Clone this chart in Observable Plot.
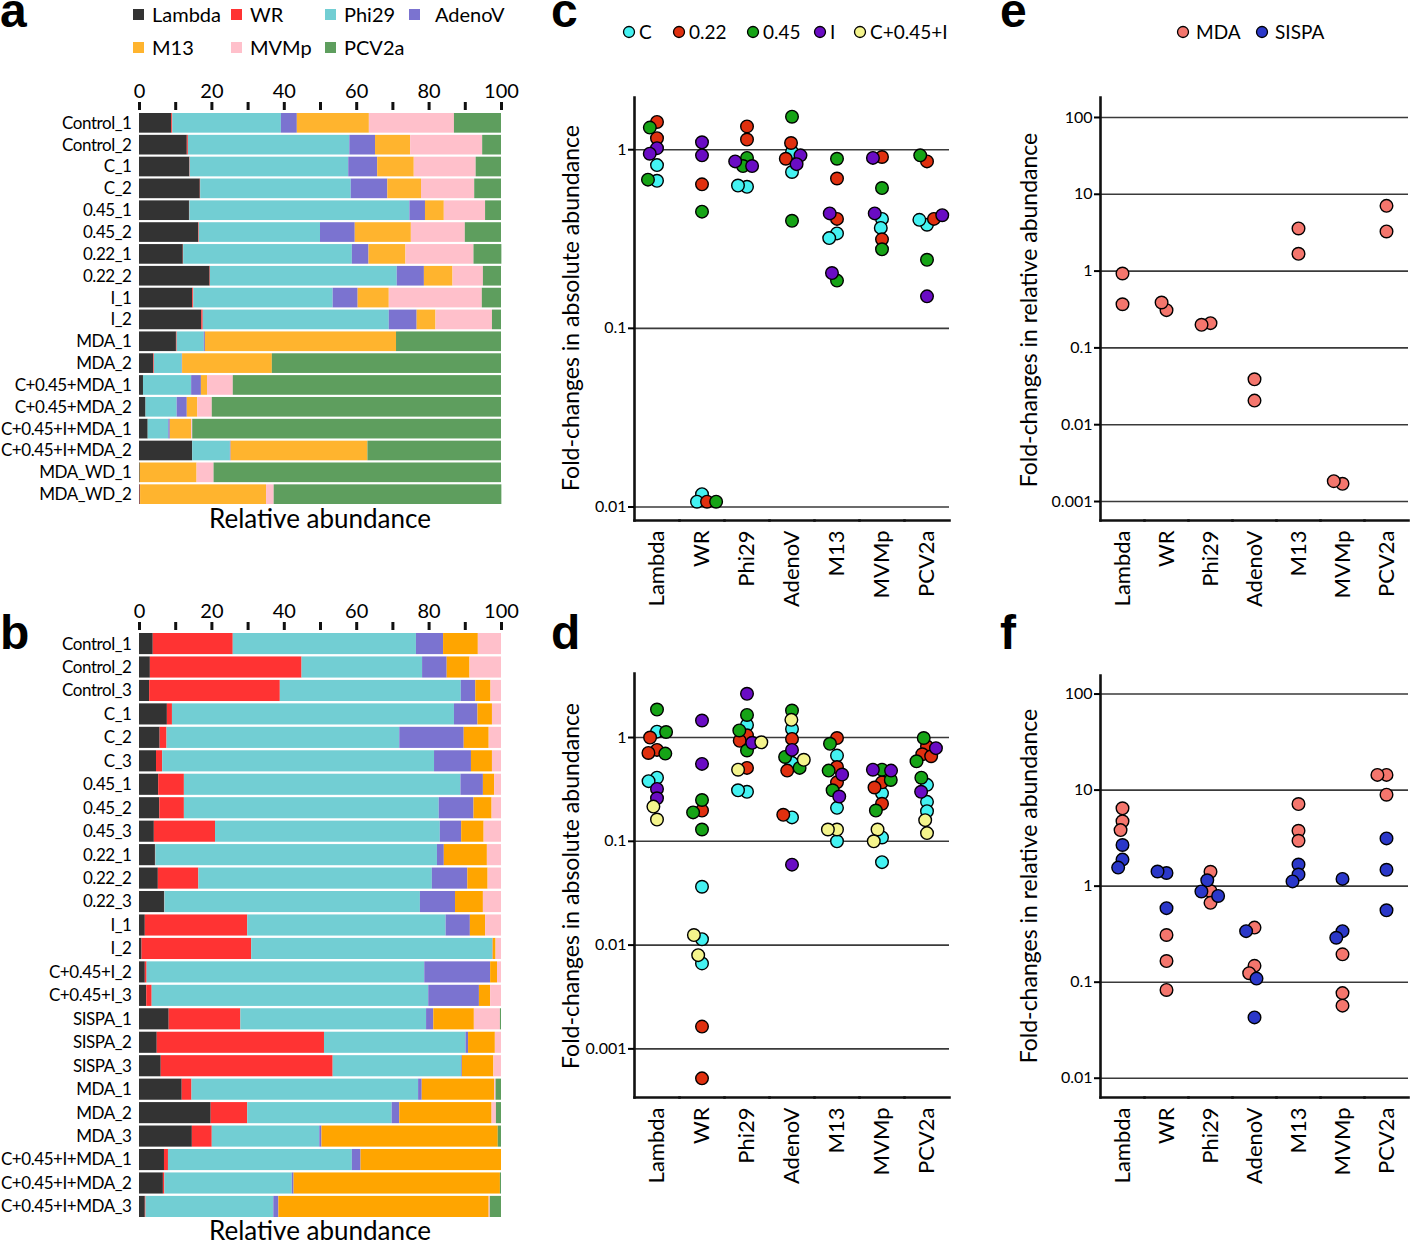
<!DOCTYPE html>
<html><head><meta charset="utf-8">
<script src="https://cdn.jsdelivr.net/npm/d3@7"></script>
<script src="https://cdn.jsdelivr.net/npm/@observablehq/plot@0.6"></script>
<style>
body{margin:0;background:#fff;}
#fig{position:relative;width:1416px;height:1242px;overflow:hidden;background:#fff;font-family:Lato,sans-serif;}
</style></head><body><div id="fig"></div>
<script>
// ---------- categories ----------
const viruses = ["Lambda","WR","Phi29","AdenoV","M13","MVMp","PCV2a"];
const barColorsA = ["#333333","#FF3333","#72CED3","#7B73D0","#FFB42E","#FFC0CB","#5E9E5E"];
const barColorsB = ["#333333","#FF3333","#72CED3","#7B73D0","#FFA500","#FFC0CB","#5E9E5E"];

// ---------- panel a: relative abundance (%) ----------
const samplesA = ["Control_1","Control_2","C_1","C_2","0.45_1","0.45_2","0.22_1","0.22_2","I_1","I_2","MDA_1","MDA_2","C+0.45+MDA_1","C+0.45+MDA_2","C+0.45+I+MDA_1","C+0.45+I+MDA_2","MDA_WD_1","MDA_WD_2"];
const aLambda = [8.9,13.2,13.9,16.8,13.8,16.3,12.1,19.5,14.7,17.2,10.2,3.9,1.1,1.8,2.4,14.7,0.2,0.2];
const aWR     = [0.3,0.3,0.1,0.1,0.1,0.2,0.1,0.1,0.3,0.4,0.2,0.2,0,0,0,0,0,0.1];
const aPhi29  = [30.0,44.6,43.8,41.6,60.8,33.5,46.6,51.6,38.5,51.4,7.5,7.7,13.3,8.6,5.7,10.4,0,0];
const aAdenoV = [4.4,7.1,8.0,10.1,4.3,9.6,4.6,7.5,6.9,7.7,0.3,0.1,2.7,2.8,0.4,0.2,0,0];
const aM13    = [19.9,9.7,10.1,9.3,5.2,15.5,10.2,7.9,8.6,5.2,52.8,24.8,1.7,2.9,5.9,37.8,15.7,34.8];
const aMVMp   = [23.5,19.9,17.1,14.7,11.4,14.9,18.8,8.4,25.7,15.6,0,0,7.1,4.0,0.3,0,4.7,2.1];
const aPCV2a  = [13.0,5.2,7.0,7.4,4.4,10.0,7.7,5.0,5.3,2.5,29.0,63.3,74.1,79.9,85.3,36.9,79.4,62.9];

// ---------- panel b: relative abundance (%) ----------
const samplesB = ["Control_1","Control_2","Control_3","C_1","C_2","C_3","0.45_1","0.45_2","0.45_3","0.22_1","0.22_2","0.22_3","I_1","I_2","C+0.45+I_2","C+0.45+I_3","SISPA_1","SISPA_2","SISPA_3","MDA_1","MDA_2","MDA_3","C+0.45+I+MDA_1","C+0.45+I+MDA_2","C+0.45+I+MDA_3"];
const bLambda = [3.8,3.0,2.8,7.7,5.7,4.7,5.3,5.6,4.1,4.4,5.2,6.9,1.6,0.7,1.6,2.0,8.2,4.9,6.0,11.8,19.8,14.6,6.9,6.6,1.6];
const bWR     = [22.1,41.9,36.1,1.4,1.9,1.7,7.1,6.8,16.9,0.1,11.2,0.1,28.3,30.3,0.5,1.5,19.8,46.2,47.5,2.7,10.1,5.5,1.1,0.4,0.2];
const bPhi29  = [50.6,33.3,50.0,77.9,64.3,75.1,76.4,70.4,62.1,77.8,64.5,70.6,54.8,66.6,76.7,76.4,51.3,39.1,35.5,62.6,39.9,29.7,50.8,35.2,35.3];
const bAdenoV = [7.5,6.8,4.0,6.5,17.8,10.2,6.2,9.6,5.9,1.9,9.8,9.7,6.7,0.1,18.2,14.0,2.0,0.7,0.2,1.0,2.1,0.6,2.4,0.5,1.4];
const bM13    = [9.6,6.3,4.2,4.0,6.9,5.8,3.1,5.0,6.2,11.9,5.6,7.7,4.2,0.8,1.9,3.1,11.2,7.4,8.7,20.0,25.5,48.7,38.8,57.0,58.1];
const bMVMp   = [6.4,8.7,2.9,2.5,3.4,2.5,1.9,2.6,4.8,3.9,3.7,5.0,4.4,1.5,1.1,3.0,7.2,1.7,2.1,0.4,1.2,0,0,0,0.3];
const bPCV2a  = [0,0,0,0,0,0,0,0,0,0,0,0,0,0,0,0,0.3,0,0,1.5,1.4,0.9,0,0.3,3.1];

// ---------- panels c, d: fold-changes in absolute abundance ----------
const treatGroups = ["C","0.22","0.45","I","C+0.45+I"];
const treatColors = ["#44F2F2","#E0300F","#16A416","#6A0CC4","#F4F48C"];
// per virus (Lambda, WR, Phi29, AdenoV, M13, MVMp, PCV2a)
const cC    = [[0.82,0.67],[0.0118,0.0107],[0.62,0.63],[0.97,0.75],[0.34,0.32],[0.41,0.365],[0.38,0.405]];
const c022  = [[1.43,1.16],[0.64,0.0107],[1.35,1.14],[1.09,0.89],[0.69,0.41],[0.91,0.315],[0.86,0.41]];
const c045  = [[1.33,0.68],[0.45,0.0107],[0.90,0.81],[1.53,0.40],[0.89,0.185],[0.61,0.277],[0.93,0.242]];
const cI    = [[1.02,0.95],[1.10,0.93],[0.81,0.86],[0.93,0.83],[0.44,0.204],[0.90,0.44],[0.43,0.151]];
const cCI   = [[],[],[],[],[],[],[]];
const dC    = [[1.14,0.41,0.38],[0.0365,0.0114,0.00666],[1.32,0.30,0.31],[1.21,0.57,0.17],[0.67,0.21,0.10],[0.29,0.109,0.063],[0.35,0.24,0.195]];
const d022  = [[1.0,0.76,0.71],[0.198,0.00164,0.00052],[1.05,0.93,0.51],[0.97,0.48,0.18],[0.99,0.52,0.37],[0.37,0.33,0.23],[0.82,0.69,0.66]];
const d045  = [[1.86,1.13,0.70],[0.25,0.19,0.13],[1.65,1.17,0.75],[1.82,0.65,0.51],[0.87,0.48,0.31],[0.49,0.39,0.198],[0.99,0.59,0.41]];
const dI    = [[0.32,0.26],[1.46,0.557],[2.64,0.89],[0.76,0.0596],[0.44,0.27],[0.49,0.48],[0.79,0.30]];
const dCI   = [[0.216,0.162],[0.0125,0.008],[0.90,0.49],[1.48,0.61],[0.13,0.13],[0.13,0.10],[0.16,0.12]];

// ---------- panels e, f: fold-changes in relative abundance ----------
const methodGroups = ["MDA","SISPA"];
const methodColors = ["#F4766D","#2B38C9"];
const eMDA   = [[0.93,0.37],[0.31,0.39],[0.21,0.20],[0.039,0.0206],[1.68,3.59],[0.0017,0.00184],[7.07,3.28]];
const eSISPA = [[],[],[],[],[],[],[]];
const fMDA   = [[6.46,4.74,3.83],[0.31,0.166,0.083],[1.41,0.89,0.67],[0.37,0.148,0.124],[7.16,3.77,2.97],[0.195,0.077,0.057],[14.4,14.4,8.95]];
const fSISPA = [[2.68,1.89,1.56],[1.37,1.42,0.59],[1.15,0.88,0.79],[0.34,0.109,0.043],[1.68,1.32,1.12],[1.19,0.34,0.29],[3.14,1.48,0.56]];

// ---------- drawing ----------
const fig = document.getElementById("fig");
const FONT = "Lato, sans-serif";
function place(node, left, top) {
  node.style.position = "absolute"; node.style.left = left + "px"; node.style.top = top + "px";
  fig.appendChild(node);
}

function barPanel(samples, cols, colors, box) {
  const rows = [];
  samples.forEach((s, i) => viruses.forEach((v, j) => rows.push({sample: s, virus: v, value: cols[j][i]})));
  const chart = Plot.plot({
    width: box.w, height: box.h,
    marginLeft: 139, marginRight: box.w - 501, marginTop: box.mt, marginBottom: box.mb,
    style: {fontFamily: FONT, color: "#000", background: "transparent", overflow: "visible"},
    x: {domain: [0, 100]},
    y: {domain: samples, paddingInner: 0.1, paddingOuter: 0, round: false},
    color: {domain: viruses, range: colors},
    marks: [
      Plot.barX(rows, {x: "value", y: "sample", fill: "virus"}),
      Plot.axisX({anchor: "top", ticks: d3.range(0, 101, 10), tickFormat: d => d % 20 === 0 ? String(d) : "",
        tickSize: 8, tickPadding: 4, dy: -4, strokeWidth: 3, stroke: "#111", fontSize: 20, label: null}),
      Plot.axisY({tickSize: 0, tickPadding: 8, fontSize: 17, label: null})
    ]
  });
  d3.select(chart).selectAll('g[aria-label="y-axis tick label"]').attr("letter-spacing", "-0.45px");
  place(chart, box.left, box.top);
}

function dotPanel(groups, colors, values, yDomain, yTicks, box) {
  const rows = [];
  viruses.forEach((v, vi) => groups.forEach((g, gi) => values[gi][vi].forEach(val => rows.push({group: g, virus: v, value: val}))));
  const chart = Plot.plot({
    width: box.w, height: box.h,
    marginLeft: box.ml, marginRight: box.mr, marginTop: box.mt, marginBottom: box.mb,
    style: {fontFamily: FONT, color: "#000", background: "transparent", overflow: "visible"},
    fx: {domain: viruses, padding: 0, label: null},
    y: {type: "log", domain: yDomain},
    color: {domain: groups, range: colors},
    marks: [
      Plot.ruleY(yTicks, {stroke: "#3a3a3a", strokeWidth: 1.6}),
      Plot.frame({anchor: "bottom", stroke: "#111", strokeWidth: 2.6}),
      Plot.frame({anchor: "left", stroke: "#111", strokeWidth: 2.6, facetAnchor: "left"}),
      Plot.axisY({ticks: yTicks, tickFormat: d => String(d), tickSize: 6, tickPadding: 2, strokeWidth: 2, fontSize: 16, label: null}),
      Plot.axisFx({anchor: "bottom", tickRotate: -90, tickSize: 0, tickPadding: 10, fontSize: 22, label: null}),
      Plot.dot(rows, Plot.dodgeX({anchor: "middle", padding: -3.5}, {fx: "virus", y: "value", fill: "group", r: 6.3, stroke: "#000", strokeWidth: 1.4}))
    ]
  });
  place(chart, box.left, box.top);
}

barPanel(samplesA, [aLambda, aWR, aPhi29, aAdenoV, aM13, aMVMp, aPCV2a], barColorsA,
  {left: 0, top: 70, w: 510, h: 480, mt: 43, mb: 46});
barPanel(samplesB, [bLambda, bWR, bPhi29, bAdenoV, bM13, bMVMp, bPCV2a], barColorsB,
  {left: 0, top: 590, w: 510, h: 652, mt: 43, mb: 25});

dotPanel(treatGroups, treatColors, [cC, c022, c045, cI, cCI], [0.0084, 1.96], [0.01, 0.1, 1],
  {left: 550, top: 80, w: 410, h: 540, ml: 83, mr: 11, mt: 17, mb: 100});
dotPanel(treatGroups, treatColors, [dC, d022, d045, dI, dCI], [0.00034, 4.14], [0.001, 0.01, 0.1, 1],
  {left: 550, top: 660, w: 410, h: 580, ml: 83, mr: 11, mt: 13, mb: 143});
dotPanel(methodGroups, methodColors, [eMDA, eSISPA], [0.000566, 182], [0.001, 0.01, 0.1, 1, 10, 100],
  {left: 1010, top: 80, w: 406, h: 540, ml: 87, mr: 5, mt: 17, mb: 100});
dotPanel(methodGroups, methodColors, [fMDA, fSISPA], [0.0063, 156], [0.01, 0.1, 1, 10, 100],
  {left: 1010, top: 660, w: 406, h: 580, ml: 87, mr: 5, mt: 15, mb: 143});

// ---------- text overlay: panel letters, legends, titles ----------
const over = d3.select(fig).append("svg")
  .attr("width", 1416).attr("height", 1242)
  .style("position", "absolute").style("left", "0px").style("top", "0px")
  .style("pointer-events", "none").style("font-family", FONT);

function txt(s, x, y, opts = {}) {
  const t = over.append("text").attr("x", x).attr("y", y).text(s)
    .attr("font-size", opts.size || 20).attr("fill", "#000")
    .attr("text-anchor", opts.anchor || "start");
  if (opts.weight) t.attr("font-weight", opts.weight);
  if (opts.family) t.attr("font-family", opts.family);
  if (opts.rotate) t.attr("transform", `rotate(-90 ${x} ${y})`).attr("dominant-baseline", "central");
  return t;
}

// panel letters
[["a", 0, 27], ["c", 551, 27], ["e", 1000, 27], ["b", 0, 649], ["d", 551, 649], ["f", 1000, 649]]
  .forEach(([s, x, y]) => txt(s, x, y, {size: 48, weight: "bold", family: "Liberation Sans, Arial, sans-serif"}));

// legend a
const legA = [[0, 133, 15], [1, 231, 15], [2, 325, 15], [3, 409, 15], [4, 133, 48], [5, 231, 48], [6, 325, 48]];
legA.forEach(([i, x, y]) => {
  over.append("rect").attr("x", x).attr("y", y - 6).attr("width", 11).attr("height", 11).attr("fill", barColorsA[i]);
  txt(viruses[i], x + (i === 3 ? 26 : 19), y + 7, {size: 20});
});

// legend c
const legC = [629, 679, 753, 820, 860];
treatGroups.forEach((g, i) => {
  over.append("circle").attr("cx", legC[i]).attr("cy", 32).attr("r", 5.5)
    .attr("fill", treatColors[i]).attr("stroke", "#000").attr("stroke-width", 1.3);
  txt(g, legC[i] + 10, 39, {size: 19});
});
// legend e
const legE = [1183, 1262];
methodGroups.forEach((g, i) => {
  over.append("circle").attr("cx", legE[i]).attr("cy", 32).attr("r", 5.5)
    .attr("fill", methodColors[i]).attr("stroke", "#000").attr("stroke-width", 1.3);
  txt(g, legE[i] + 13, 39, {size: 19});
});

// axis titles
txt("Relative abundance", 320, 528, {size: 26, anchor: "middle"});
txt("Relative abundance", 320, 1240, {size: 26, anchor: "middle"});
txt("Fold-changes in absolute abundance", 570, 308, {size: 23, anchor: "middle", rotate: true});
txt("Fold-changes in absolute abundance", 570, 886, {size: 23, anchor: "middle", rotate: true});
txt("Fold-changes in relative abundance", 1028, 310, {size: 23, anchor: "middle", rotate: true});
txt("Fold-changes in relative abundance", 1028, 886, {size: 23, anchor: "middle", rotate: true});
</script>
</body></html>
